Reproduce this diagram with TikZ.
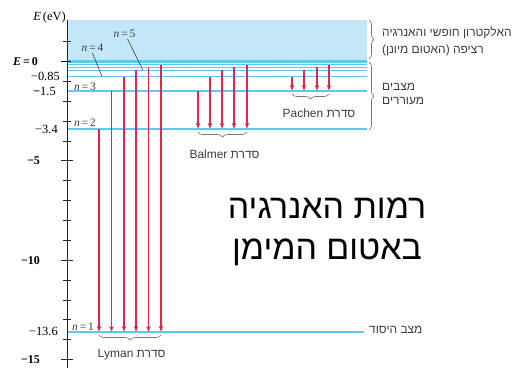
\documentclass[tikz,border=0pt]{standalone}
\usepackage{fontspec}
\setmainfont{Liberation Serif}
\newfontfamily\hebfont[Script=Hebrew]{Liberation Sans}
\TeXXeTstate=1
\usetikzlibrary{arrows.meta,decorations.pathreplacing}

\definecolor{bandblue}{RGB}{196,231,247}
\definecolor{levelblue}{RGB}{95,200,238}
\definecolor{arrowred}{RGB}{226,38,72}
\definecolor{labelgray}{RGB}{60,60,60}
\definecolor{bracegray}{RGB}{120,120,120}

\begin{document}
\begin{tikzpicture}[x=1bp,y=-1bp,
  level/.style={draw=levelblue,line width=1.3bp},
  trans/.style={draw=arrowred,line width=1.6bp,-{Stealth[length=5.5bp,width=4.5bp]}},
  axislbl/.style={anchor=east,inner sep=0pt,font=\fontsize{12.5}{14}\selectfont},
  boldlbl/.style={axislbl,font=\bfseries\fontsize{12}{14}\selectfont},
  nlbl/.style={inner sep=0pt,text=labelgray,font=\fontsize{11.5}{13}\selectfont},
  leader/.style={draw=labelgray,line width=0.6bp},
  heb/.style={inner sep=0pt,text=labelgray,font=\hebfont\fontsize{12}{14}\selectfont},
  sbrace/.style={draw=bracegray,line width=0.7bp,decorate,decoration={brace,amplitude=5bp}},
  tickmark/.style={draw=black!85,line width=0.8bp}]
\useasboundingbox (0,0) rectangle (513,376);

% continuum band above E = 0
\fill[bandblue] (67,20) rectangle (367,61.5);

% energy levels
\coordinate (e0l) at (67,61.5);   \coordinate (e0r) at (367,61.5);
\draw[draw=levelblue,line width=2.4bp] (e0l) -- (e0r);
\foreach \yy/\nm in {64.8/7,67.4/6,70.3/5,76.5/4,91/3,129/2}{
  \coordinate (lv\nm l) at (67,\yy);
  \coordinate (lv\nm r) at (367,\yy);
  \draw[level] (lv\nm l) -- (lv\nm r);
}
\coordinate (lv1l) at (67,332); \coordinate (lv1r) at (364,332);
\draw[level,line width=1.8bp] (lv1l) -- (lv1r);

% energy axis
\coordinate (axtop) at (67,20); \coordinate (axbot) at (67,368);
\draw[draw=black!85,line width=0.9bp] (axtop) -- (axbot);
\foreach \k in {1,-1,-2,-3,-4,-6,-7,-8,-9,-11,-12,-13,-14}{
  \coordinate (ta) at (63,61.5-19.87*\k); \coordinate (tb) at (71,61.5-19.87*\k);
  \draw[tickmark] (ta) -- (tb);
}
\foreach \k in {-5,-10,-15}{
  \coordinate (ta) at (61,61.5-19.87*\k); \coordinate (tb) at (73,61.5-19.87*\k);
  \draw[tickmark,line width=1.2bp] (ta) -- (tb);
}
\coordinate (z0a) at (61,61.5); \coordinate (z0b) at (71,61.5);
\draw[draw=black,line width=1.6bp] (z0a) -- (z0b);

% axis labels
\node[anchor=south east,inner sep=0pt,font=\fontsize{12.5}{14}\selectfont] (elab) at (66,23) {\textit{E}\,(eV)};
\node[boldlbl] (ezero) at (38,61.5) {\textit{E}\,=\,0};
\node[axislbl] (m085) at (60,76.5) {\textminus0.85};
\node[axislbl] (m15)  at (56,91) {\textbf{\textminus}1.5};
\node[axislbl] (m34)  at (58,129) {\textminus3.4};
\node[boldlbl] (m5)  at (40,161) {\textminus5};
\node[boldlbl] (m10) at (40,260.5) {\textminus10};
\node[axislbl] (m136) at (58,331.5) {\textminus13.6};
\node[boldlbl] (m15b) at (40,360) {\textminus15};

% quantum number labels
\node[nlbl] (n5) at (124.5,34) {\textit{n}\,=\,5};
\node[nlbl] (n4) at (92.5,48) {\textit{n}\,=\,4};
\node[nlbl] (n3) at (85,86.5) {\textit{n}\,=\,3};
\node[nlbl] (n2) at (85,123) {\textit{n}\,=\,2};
\node[nlbl] (n1) at (83,327) {\textit{n}\,=\,1};
\coordinate (n5end) at (143,70.3);
\coordinate (n4end) at (102,76.5);
\draw[leader] ([xshift=3bp,yshift=-1bp]n5.south) -- (n5end);
\draw[leader] ([yshift=-1bp]n4.south) -- (n4end);

% Lyman series (to n = 1)
\foreach \xx/\yt/\i in {99/129/a,111.5/91/b,124/76.5/c,136/70.3/d,148.5/67.4/e,161/64.8/f}{
  \coordinate (ly\i t) at (\xx,\yt); \coordinate (ly\i b) at (\xx,331.5);
  \draw[trans] (ly\i t) -- (ly\i b);
}
% Balmer series (to n = 2)
\foreach \xx/\yt/\i in {198/91/a,210/76.5/b,222/70.3/c,234/67.4/d,247/64.8/e}{
  \coordinate (ba\i t) at (\xx,\yt); \coordinate (ba\i b) at (\xx,128.5);
  \draw[trans] (ba\i t) -- (ba\i b);
}
% Paschen series (to n = 3)
\foreach \xx/\yt/\i in {292/76.5/a,304/70.3/b,317/67.4/c,329/64.8/d}{
  \coordinate (pa\i t) at (\xx,\yt); \coordinate (pa\i b) at (\xx,90.5);
  \draw[trans] (pa\i t) -- (pa\i b);
}

% series braces and names
\coordinate (lybr) at (161,335); \coordinate (lybl) at (99,335);
\draw[sbrace] (lybr) -- (lybl);
\node[heb] (lyman) at (131.5,355) {\beginR סדרת \beginL Lyman\endL\endR};
\coordinate (babr) at (247,132); \coordinate (babl) at (198,132);
\draw[sbrace] (babr) -- (babl);
\node[heb] (balmer) at (224.5,154) {\beginR סדרת \beginL Balmer\endL\endR};
\coordinate (papr) at (329,94); \coordinate (papl) at (292,94);
\draw[sbrace] (papr) -- (papl);
\node[heb] (paschen) at (319,113) {\beginR סדרת \beginL Pachen\endL\endR};

% right-hand braces and descriptions
\coordinate (fbt) at (369,20); \coordinate (fbb) at (369,59);
\draw[sbrace] (fbt) -- (fbb);
\coordinate (xbt) at (369,62); \coordinate (xbb) at (369,130);
\draw[sbrace] (xbt) -- (xbb);
\node[heb,anchor=west] (free1) at (382,33) {\beginR האלקטרון חופשי והאנרגיה\endR};
\node[heb,anchor=west] (free2) at (382,50) {\beginR רציפה (האטום מיונן)\endR};
\node[heb,anchor=west] (exc1) at (382,87) {\beginR מצבים\endR};
\node[heb,anchor=west] (exc2) at (382,101) {\beginR מעוררים\endR};
\node[heb,anchor=west] (ground) at (369,330) {\beginR מצב היסוד\endR};

% title
\node[inner sep=0pt,font=\hebfont\fontsize{34}{40}\selectfont] (title1) at (327,208) {\beginR רמות האנרגיה\endR};
\node[inner sep=0pt,font=\hebfont\fontsize{34}{40}\selectfont] (title2) at (327,252) {\beginR באטום המימן\endR};
\end{tikzpicture}
\end{document}
